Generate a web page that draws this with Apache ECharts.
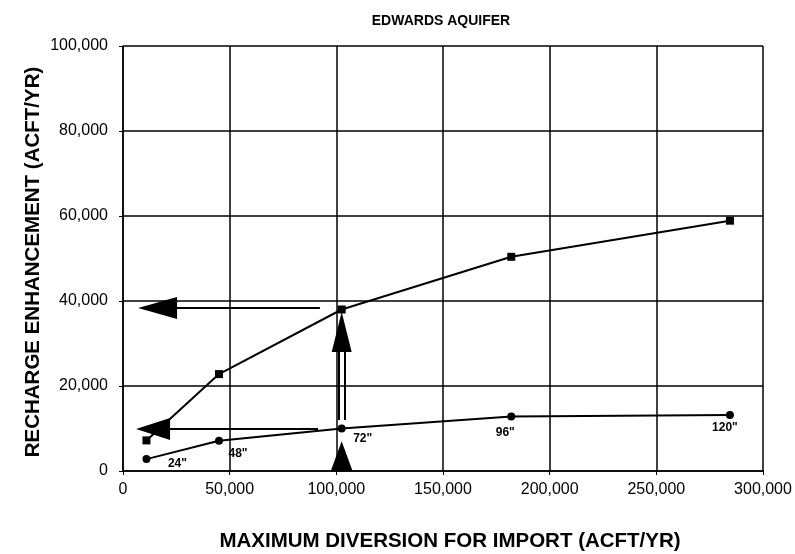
<!DOCTYPE html>
<html><head><meta charset="utf-8">
<script src="https://cdn.jsdelivr.net/npm/echarts@6/dist/echarts.min.js"></script>
<style>html,body{margin:0;padding:0;background:#fff}#c{width:795px;height:554px}</style>
</head><body><div id="c"></div>
<script>
// Data
const diversion = [11000, 45000, 102500, 182000, 284500];
const rechargeUpper = [7200, 22800, 38000, 50400, 58900];
const rechargeLower = [2800, 7100, 10000, 12800, 13200];
const pipeLabels = ['24"', '48"', '72"', '96"', '120"'];
const xTicks = [0, 50000, 100000, 150000, 200000, 250000, 300000];
const yTicks = [0, 20000, 40000, 60000, 80000, 100000];
// Annotation arrows: [tailX, tailY, headX, headY]
const arrowUpperH = [92300, 38350, 16200, 38350];
const arrowLowerH = [91400, 9900, 14100, 9900];
const arrowUpV = [102500, 28000, 102500, 32700];
const arrowUpVShaftL = [101100, 12000, 101100, 28000];
const arrowUpVShaftR = [103900, 12000, 103900, 28000];
const arrowBottom = [102500, 0, 102500, 3500];

// Layout for labels (pixel offsets)
const labelOffsets = [[31, 5], [19, 13], [21, 10], [-6, 16], [-5, 13]];

const font = '"Liberation Sans", Arial, sans-serif';
const chart = echarts.init(document.getElementById('c'), null, {renderer: 'canvas'});

function arrowSeries(a, size, withHead) {
  return {
    type: 'line', data: [], silent: true,
    markLine: {
      silent: true, animation: false,
      symbol: withHead ? ['none', 'triangle'] : ['none', 'none'],
      symbolSize: size,
      label: {show: false},
      lineStyle: {color: '#000', width: 2, type: 'solid'},
      emphasis: {disabled: true},
      data: [[{coord: [a[0], a[1]]}, {coord: [a[2], a[3]]}]]
    }
  };
}

const option = {
  animation: false,
  backgroundColor: '#fff',
  title: {
    text: 'EDWARDS AQUIFER', left: 436, top: 9, textAlign: 'center',
    textStyle: {fontFamily: font, fontSize: 14, fontWeight: 'bold', color: '#000'}
  },
  grid: {left: 123, right: 32, top: 46, bottom: 83, containLabel: false, outerBoundsMode: 'none'},
  xAxis: {
    type: 'value', min: 0, max: 300000, interval: 50000,
    name: 'MAXIMUM DIVERSION FOR IMPORT (ACFT/YR)', nameLocation: 'middle', nameGap: 60,
    nameTextStyle: {fontFamily: font, fontSize: 20.5, fontWeight: 'bold', color: '#000', padding: [0, 0, 0, 14]},
    axisLine: {show: true, lineStyle: {color: '#000', width: 1.5}},
    axisTick: {show: true, inside: false, length: 4, lineStyle: {color: '#000', width: 1}},
    axisLabel: {fontFamily: font, fontSize: 16, color: '#000', margin: 11,
      formatter: v => xTicks.includes(v) ? v.toLocaleString('en-US') : ''},
    splitLine: {show: true, lineStyle: {color: '#000', width: 1.5}}
  },
  yAxis: {
    type: 'value', min: 0, max: 100000, interval: 20000,
    name: 'RECHARGE ENHANCEMENT (ACFT/YR)', nameLocation: 'middle', nameGap: 79,
    nameMoveOverlap: false,
    nameTextStyle: {fontFamily: font, fontSize: 20.5, fontWeight: 'bold', color: '#000', padding: [0, 7, 0, 0]},
    axisLine: {show: true, lineStyle: {color: '#000', width: 1.5}},
    axisTick: {show: true, inside: false, length: 4, lineStyle: {color: '#000', width: 1}},
    axisLabel: {fontFamily: font, fontSize: 16, color: '#000', margin: 15,
      formatter: v => yTicks.includes(v) ? v.toLocaleString('en-US') : ''},
    splitLine: {show: true, lineStyle: {color: '#000', width: 1.5}}
  },
  series: [
    {
      type: 'line', name: 'upper',
      data: diversion.map((x, i) => [x, rechargeUpper[i]]),
      symbol: 'rect', symbolSize: 8, showAllSymbol: true,
      lineStyle: {color: '#000', width: 2}, itemStyle: {color: '#000'}
    },
    {
      type: 'line', name: 'lower',
      data: diversion.map((x, i) => ({
        value: [x, rechargeLower[i]],
        label: {show: true, formatter: pipeLabels[i], position: 'inside', offset: labelOffsets[i]}
      })),
      symbol: 'circle', symbolSize: 8, showAllSymbol: true,
      label: {fontFamily: font, fontSize: 12, fontWeight: 'bold', color: '#000'},
      lineStyle: {color: '#000', width: 2}, itemStyle: {color: '#000'}
    },
    arrowSeries(arrowUpperH, [22, 39], true),
    arrowSeries(arrowLowerH, [22, 34], true),
    arrowSeries(arrowUpV, [20, 40], true),
    arrowSeries(arrowUpVShaftL, 0, false),
    arrowSeries(arrowUpVShaftR, 0, false),
    arrowSeries(arrowBottom, [22, 30], true)
  ]
};
chart.setOption(option);
</script>
</body></html>
